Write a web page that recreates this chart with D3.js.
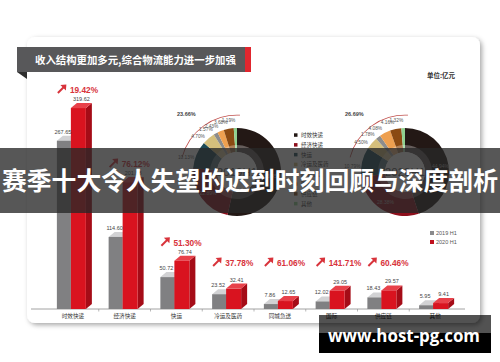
<!DOCTYPE html>
<html><head><meta charset="utf-8">
<script src="https://cdn.jsdelivr.net/npm/d3@7"></script>
<style>html,body{margin:0;padding:0;background:#fff;}svg{display:block;}</style>
</head><body>
<script>
// ---- data ----
const categories = ["时效快递","经济快递","快运","冷运及医药","同城急送","国际","供应链","其他"];
const values2019 = [267.65,114.60,50.72,23.52,7.86,12.02,18.43,5.95];
const values2020 = [319.62,201.83,76.74,32.41,12.65,29.05,29.57,9.41];
const growthLabels = ["19.42%","76.12%","51.30%","37.78%","61.06%","141.71%","60.46%",null];
const shareLabels2019 = ["53.45%","22.89%","10.13%","4.70%","1.57%","2.43%","3.68%","1.19%"];
const shareLabels2020 = ["44.94%","28.38%","10.79%","4.50%","1.78%","4.08%","4.16%","1.32%"];
const bracketLabels = ["23.66%","26.69%"];
const donutTitles = ["2019H1","2020H1"];
const seriesNames = ["2019 H1","2020 H1"];
const title = "收入结构更加多元,综合物流能力进一步加强";
const unitLabel = "单位:亿元";
const overlayText = "赛季十大令人失望的迟到时刻回顾与深度剖析";
const watermark = "www.host-pg.com";

const catColors = ["#231815","#8e0f1c","#1d4a56","#d5bf7c","#8c8c8c","#eea050","#8a4a12","#8fd08f"];
const CJK = "'Noto Sans CJK SC','Noto Sans',sans-serif";
const LAT = "'Liberation Sans',Arial,sans-serif";

const W = 500, H = 362;
const svg = d3.select("body").append("svg").attr("width", W).attr("height", H);
const defs = svg.append("defs");
const f = defs.append("filter").attr("id","sh").attr("x","-10%").attr("y","-10%").attr("width","120%").attr("height","125%");
f.append("feDropShadow").attr("dx",2).attr("dy",2).attr("stdDeviation",2.5).attr("flood-color","#000").attr("flood-opacity",0.35);

// card
svg.append("rect").attr("x",27).attr("y",37).attr("width",453).attr("height",286).attr("rx",8)
  .attr("fill","#fff").attr("filter","url(#sh)");

// title banner
svg.append("path").attr("d","M17,72 L27,72 L27,79 Z").attr("fill","#2e2e2e");
svg.append("rect").attr("x",17).attr("y",47).attr("width",228).attr("height",25).attr("fill","#58585a");
svg.append("rect").attr("x",245).attr("y",47).attr("width",6).attr("height",25).attr("fill","#e0262e");
svg.append("text").attr("x",35).attr("y",63.5).attr("fill","#fff").attr("font-family",CJK)
  .attr("font-weight","bold").attr("font-size",10.4).text(title);
svg.append("text").attr("x",455).attr("y",78).attr("text-anchor","end").attr("fill","#333")
  .attr("font-family",CJK).attr("font-weight","bold").attr("font-size",6.5).text(unitLabel);

// ---- bar chart ----
const x = d3.scaleBand().domain(categories).range([47,461]);
const y = d3.scaleLinear().domain([0,320]).range([309,107.8]);
const base = y(0);
const DX = 6, DY = -5;
const g = svg.append("g");

// axis
const axis = d3.axisBottom(x).tickSize(0).tickPadding(5);
const ax = g.append("g").attr("transform",`translate(0,${base})`).call(axis);
ax.select(".domain").remove();
ax.selectAll("text").attr("font-family",CJK).attr("font-size",5.6).attr("fill","#333");
g.append("line").attr("x1",31).attr("x2",465).attr("y1",base).attr("y2",base).attr("stroke","#8a8a8a").attr("stroke-width",0.8);
g.selectAll(".tk").data(categories.slice(1)).enter().append("line")
  .attr("x1",d=>x(d)).attr("x2",d=>x(d)).attr("y1",base).attr("y2",base+2.5).attr("stroke","#8a8a8a").attr("stroke-width",0.6);

function box(sel, x0, w, top, cFront, cTop, cSide){
  sel.append("path").attr("d",`M${x0+w},${top} L${x0+w+DX},${top+DY} L${x0+w+DX},${base+DY} L${x0+w},${base} Z`).attr("fill",cSide);
  sel.append("path").attr("d",`M${x0},${top} L${x0+DX},${top+DY} L${x0+w+DX},${top+DY} L${x0+w},${top} Z`).attr("fill",cTop);
  sel.append("rect").attr("x",x0).attr("y",top).attr("width",w).attr("height",base-top).attr("fill",cFront);
}

categories.forEach((c,i)=>{
  const cx = x(c) + x.bandwidth()/2;
  const gx = cx-16, gw = 14, rx = cx-2, rw = 15;
  const gt = y(values2019[i]), rt = y(values2020[i]);
  const gg = g.append("g");
  box(gg, gx, gw, gt, "#808082", "#d2d2d4", "#6a6a6c");
  box(gg, rx, rw, rt, "#d9131f", "#e8414a", "#a50c17");
  gg.append("text").attr("x",gx+gw/2-1).attr("y",gt-7).attr("text-anchor","middle")
    .attr("font-family",LAT).attr("font-size",5.5).attr("fill","#444").text(values2019[i].toFixed(2));
  gg.append("text").attr("x",rx+rw/2+3).attr("y",rt-7).attr("text-anchor","middle")
    .attr("font-family",LAT).attr("font-size",5.5).attr("fill","#444").text(values2020[i].toFixed(2));
  if(growthLabels[i]){
    const b = Math.min(rt+DY-10, 266);
    const ax0 = cx-15;
    gg.append("line").attr("x1",ax0).attr("y1",b).attr("x2",ax0+6).attr("y2",b-6)
      .attr("stroke","#d8333b").attr("stroke-width",2);
    gg.append("path").attr("d",`M${ax0+8.5},${b-8.5} L${ax0+2.5},${b-8} L${ax0+8},${b-2.5} Z`).attr("fill","#d8333b");
    gg.append("text").attr("x",cx-3).attr("y",b).attr("font-family",LAT).attr("font-weight","bold")
      .attr("font-size",8.3).attr("fill","#d8333b").text(growthLabels[i]);
  }
});

// bar legend
seriesNames.forEach((s,i)=>{
  svg.append("rect").attr("x",430).attr("y",231+i*9).attr("width",4).attr("height",4).attr("fill",i?"#c0101e":"#8a8a8c");
  svg.append("text").attr("x",436).attr("y",235+i*9).attr("font-family",LAT).attr("font-size",5.5).attr("fill","#555").text(s);
});

// ---- donuts ----
const pie = d3.pie().sort(null).value(d=>d);
const R = 44, RI = 20;
const arcMain = d3.arc().innerRadius(RI).outerRadius(R);
const arcIn = d3.arc().innerRadius(RI).outerRadius(27);
const brk = d3.arc().innerRadius(56.5).outerRadius(57.3).startAngle(-75*Math.PI/180).endAngle(3*Math.PI/180);
const shift = -7*Math.PI/180;
[[237,172,values2019,shareLabels2019],[405,172,values2020,shareLabels2020]].forEach(([dx,dy,vals,labs],k)=>{
  const dg = svg.append("g").attr("transform",`translate(${dx},${dy})`);
  const arcs = pie(vals);
  dg.selectAll(".s").data(arcs).enter().append("path").attr("d",arcMain).attr("fill",(d,i)=>catColors[i]);
  dg.selectAll(".si").data(arcs).enter().append("path").attr("d",arcIn).attr("fill","rgba(255,255,255,0.3)");
  dg.append("circle").attr("r",RI).attr("fill","#fff");
  dg.append("text").attr("y",4).attr("text-anchor","middle").attr("font-family",LAT).attr("font-size",11.5)
    .attr("fill","#555").text(donutTitles[k]);
  dg.append("path").attr("d",brk).attr("fill","#c0504d");
  dg.append("text").attr("x",-60).attr("y",-56).attr("font-family",LAT).attr("font-weight","bold")
    .attr("font-size",5.5).attr("fill","#444").text(bracketLabels[k]);
  arcs.forEach((a,i)=>{
    const m = (a.startAngle+a.endAngle)/2;
    if(i<2){
      dg.append("text").attr("x",36*Math.sin(m)).attr("y",-36*Math.cos(m)+2).attr("text-anchor","middle")
        .attr("font-family",LAT).attr("font-size",5).attr("fill","#aaa").text(labs[i]);
    } else {
      const mm = m + shift;
      dg.append("text").attr("x",53*Math.sin(mm)).attr("y",-53*Math.cos(mm)+2).attr("text-anchor","middle")
        .attr("font-family",LAT).attr("font-size",4.8).attr("fill","#555").text(labs[i]);
    }
  });
});

// donut legend
categories.forEach((c,i)=>{
  svg.append("rect").attr("x",294).attr("y",133.3+i*9.8).attr("width",3.5).attr("height",3.5).attr("fill",catColors[i]);
  svg.append("text").attr("x",301).attr("y",137+i*9.8).attr("font-family",CJK).attr("font-size",5.5).attr("fill","#333").text(c);
});

// ---- overlays ----
svg.append("rect").attr("x",0).attr("y",148).attr("width",W).attr("height",65).attr("fill","rgba(40,40,40,0.78)");
svg.append("text").attr("x",W/2).attr("y",190).attr("text-anchor","middle").attr("font-family",CJK)
  .attr("font-weight","bold").attr("font-size",24.8).attr("fill","#fff").text(overlayText);

svg.append("rect").attr("x",319).attr("y",315).attr("width",172).attr("height",18).attr("fill","rgba(0,0,0,0.68)");
svg.append("rect").attr("x",319).attr("y",333).attr("width",172).attr("height",20).attr("fill","#000");
svg.append("text").attr("x",328).attr("y",342).attr("font-family","'Open Sans',sans-serif").attr("font-weight","bold")
  .attr("font-size",18).attr("fill","#fff").attr("textLength",152).attr("lengthAdjust","spacingAndGlyphs").text(watermark);
</script>
</body></html>
